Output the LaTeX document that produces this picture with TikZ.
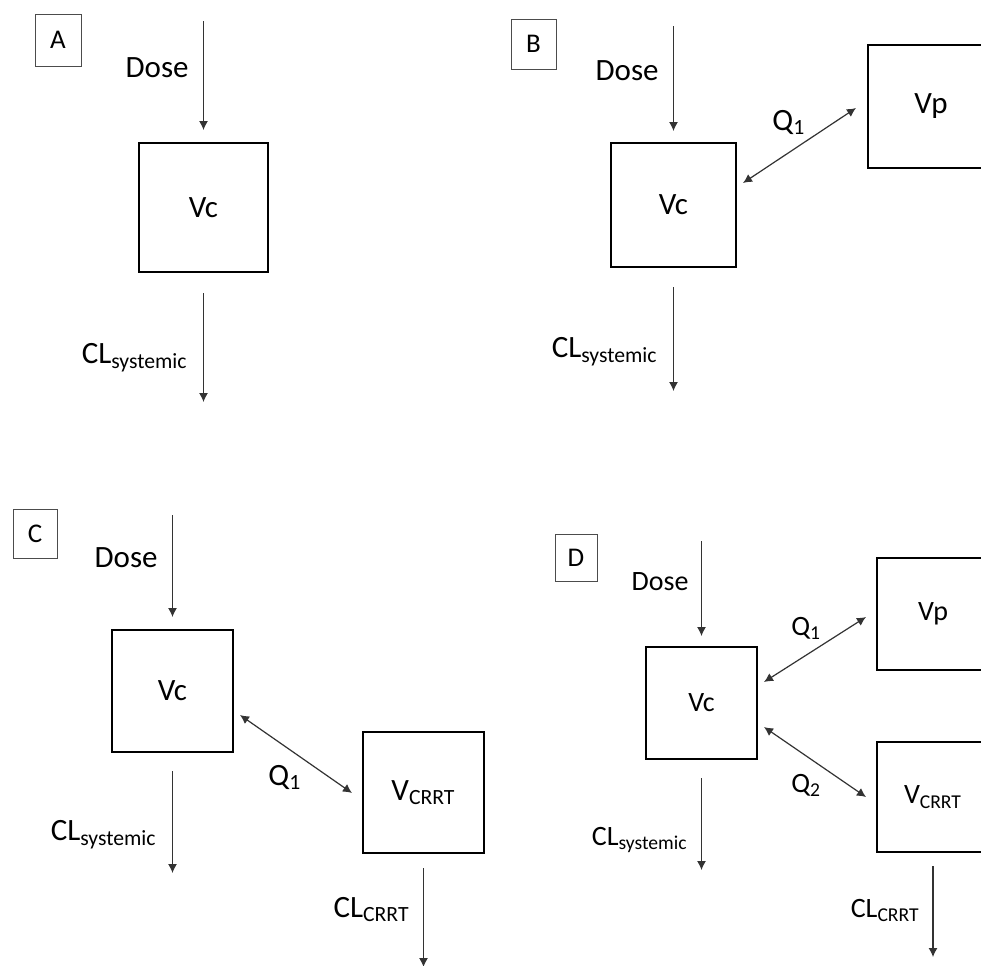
\documentclass[tikz,border=0pt]{standalone}
\usepackage{fontspec}
\setmainfont{Carlito}
\usepackage{tikz}
\usetikzlibrary{arrows.meta}

\begin{document}
\begin{tikzpicture}[x=0.5pt,y=-0.5pt,
    txt/.style={font=\fontsize{15.5}{18}\selectfont, inner sep=0pt},
    comp/.style={draw, line width=1pt, inner sep=0pt, txt},
    tag/.style={draw=black!70, line width=0.5pt, inner sep=0pt, font=\fontsize{13.5}{16}\selectfont},
    flow/.style={draw=black!80, line width=0.6pt, -{Latex[length=4.5pt,width=4.5pt]}},
    flux/.style={draw=black!80, line width=0.6pt, {Latex[length=4.5pt,width=4.5pt]}-{Latex[length=4.5pt,width=4.5pt]}}]
        \useasboundingbox (0,0) rectangle (981,965);
        \clip (0,0) rectangle (981,965);
        \fill[white] (0,0) rectangle (981,965);

        \node[tag, minimum width=23pt, minimum height=26pt] (a-tag) at (58,40) {A};
        \node[comp, minimum width=64.5pt, minimum height=64.5pt] (a-vc) at (203.5,207.5) {Vc};
        \coordinate (a-in) at (203.5,21);
        \coordinate (a-out) at (203.5,402);
        \node[txt, anchor=base east] (a-dose) at (189,77) {Dose};
        \node[txt, anchor=base east] (a-cl) at (188,363) {CL\textsubscript{systemic}};
        \draw[flow, shorten >=6pt] (a-in) -- (a-vc);
        \draw[flow, shorten <=10pt] (a-vc) -- (a-out);

        \node[tag, minimum width=22.5pt, minimum height=25pt] (b-tag) at (533.5,44) {B};
        \node[comp, minimum width=62.5pt, minimum height=62pt] (b-vc) at (673.5,205) {Vc};
        \node[comp, minimum width=63pt, minimum height=61.5pt] (b-vp) at (931,106.5) {Vp};
        \coordinate (b-in) at (673.5,26);
        \coordinate (b-out) at (673.5,391);
        \node[txt, anchor=base east] (b-dose) at (659,80) {Dose};
        \node[txt, anchor=base east] (b-cl) at (658,357) {CL\textsubscript{systemic}};
        \node[txt, anchor=base west] (b-q1) at (772,130) {Q\textsubscript{1}};
        \draw[flow, shorten >=5.5pt] (b-in) -- (b-vc);
        \draw[flow, shorten <=9.5pt] (b-vc) -- (b-out);
        \draw[flux] ([shift={(6,-22)}]b-vc.east) -- ([shift={(-11,1.5)}]b-vp.west);

        \node[tag, minimum width=22pt, minimum height=24.5pt] (c-tag) at (35,533.5) {C};
        \node[comp, minimum width=60.5pt, minimum height=61pt] (c-vc) at (172.5,691) {Vc};
        \node[comp, minimum width=60.5pt, minimum height=60.5pt] (c-vcrrt) at (423.5,792.5) {V\textsubscript{CRRT}};
        \coordinate (c-in) at (172.5,515);
        \coordinate (c-out) at (172.5,873);
        \coordinate (c-crrt) at (423.5,967);
        \node[txt, anchor=base east] (c-dose) at (158,567) {Dose};
        \node[txt, anchor=base east] (c-cl) at (157,840) {CL\textsubscript{systemic}};
        \node[txt, anchor=base east] (c-clcrrt) at (410,917) {CL\textsubscript{CRRT}};
        \node[txt, anchor=base west] (c-q1) at (268,785) {Q\textsubscript{1}};
        \draw[flow, shorten >=6pt] (c-in) -- (c-vc);
        \draw[flow, shorten <=9pt] (c-vc) -- (c-out);
        \draw[flux] ([shift={(6,24)}]c-vc.east) -- ([shift={(-10,0.5)}]c-vcrrt.west);
        \draw[flow, shorten <=7pt] (c-vcrrt) -- (c-crrt);

        \begin{scope}[txt/.append style={font=\fontsize{14}{16}\selectfont}]
        \node[tag, minimum width=21pt, minimum height=23.5pt] (d-tag) at (576,557.5) {D};
        \node[comp, minimum width=55.5pt, minimum height=56pt] (d-vc) at (701.5,703) {Vc};
        \node[comp, minimum width=56pt, minimum height=56pt] (d-vp) at (933,614) {Vp};
        \node[comp, minimum width=56pt, minimum height=55pt] (d-vcrrt) at (933,797) {V\textsubscript{CRRT}};
        \coordinate (d-in) at (701.5,541);
        \coordinate (d-out) at (701.5,870);
        \coordinate (d-crrt) at (933,957);
        \node[txt, anchor=base east] (d-dose) at (689,590) {Dose};
        \node[txt, anchor=base east] (d-cl) at (688,845) {CL\textsubscript{systemic}};
        \node[txt, anchor=base east] (d-clcrrt) at (920,917) {CL\textsubscript{CRRT}};
        \node[txt, anchor=base west] (d-q1) at (791,635) {Q\textsubscript{1}};
        \node[txt, anchor=base west] (d-q2) at (791,792) {Q\textsubscript{2}};
        \draw[flow, shorten >=5pt] (d-in) -- (d-vc);
        \draw[flow, shorten <=9pt] (d-vc) -- (d-out);
        \draw[flux] ([shift={(6,-21)}]d-vc.east) -- ([shift={(-10,3)}]d-vp.west);
        \draw[flux] ([shift={(6,24)}]d-vc.east) -- ([shift={(-10,0)}]d-vcrrt.west);
        \draw[flow, shorten <=6.5pt] (d-vcrrt) -- (d-crrt);
        \end{scope}
    \end{tikzpicture}
\end{document}
